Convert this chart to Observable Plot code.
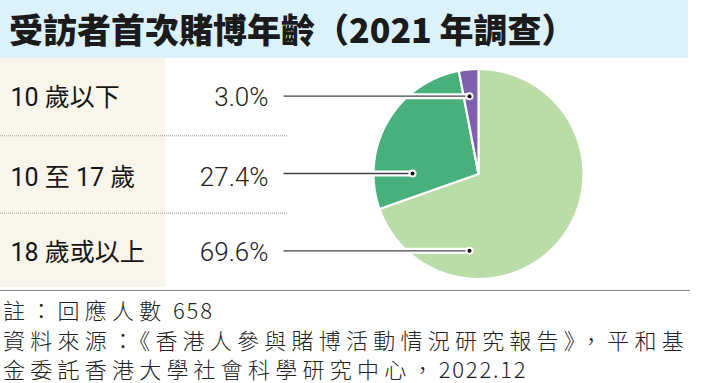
<!DOCTYPE html>
<html><head><meta charset="utf-8">
<script src="https://cdn.jsdelivr.net/npm/d3@7"></script>
<script src="https://cdn.jsdelivr.net/npm/@observablehq/plot@0.6"></script>
<style>
body{margin:0;background:#fff;width:710px;height:383px;overflow:hidden;position:relative;}
#title{position:absolute;left:0;top:0;width:688px;height:58px;background:#dcf2fb;font-family:"Noto Sans CJK TC";font-weight:900;font-size:34px;line-height:58px;padding-left:9px;box-sizing:border-box;color:#1b1b1b;white-space:nowrap;}
#chart{position:absolute;left:0;top:58px;}
#rule{position:absolute;left:0;top:290px;width:690px;height:0;border-top:1.3px solid #8a8a8a;}
#foot{position:absolute;left:3px;top:295px;font-family:"Noto Sans CJK TC";font-weight:300;font-size:22px;line-height:29.5px;color:#222;white-space:nowrap;}
#foot div{display:block;height:29.5px;}
#foot .ln{display:inline-block;}
#foot .a{letter-spacing:1.8px;}
</style></head>
<body>
<div id="title"></div><div id="chart"></div><div id="rule"></div><div id="foot"></div>
<script>
// ---- data ----
const title = "受訪者首次賭博年齡（2021 年調查）";
const categories = ["10 歲以下", "10 至 17 歲", "18 歲或以上"];
const shares = [3.0, 27.4, 69.6];
const shareLabels = ["3.0%", "27.4%", "69.6%"];
const colors = ["#7e60ae", "#47b07b", "#badca6"];
const pieOrder = [2, 1, 0]; // clockwise from 12 o'clock
const notes = [
  "註：回應人數 658",
  "資料來源：《香港人參與賭博活動情況研究報告》，平和基",
  "金委託香港大學社會科學研究中心，2022.12"
];

// ---- layout ----
const W = 710, H = 232;
const cx = 478, cy = 115.5, r = 105;
const tableW = 165, sepEnd = 287, labelX = 10, pctX = 268, leaderStart = 283;
const leaderDX = [-9, -66, -9];
const footTargetWidth = 686; // width of the longest footer line

document.getElementById("title").textContent = title;
const foot = document.getElementById("foot");
const runs = s => s.match(/[\x20-\x7e]+|[^\x20-\x7e]+/g)
  .map(t => /^[\x20-\x7e]/.test(t) ? `<span class="a">${t}</span>` : `<span class="c">${t}</span>`).join("");
foot.innerHTML = notes.map(s => `<div><span class="ln">${runs(s)}</span></div>`).join("");
// fit the spacing of the wide (CJK) characters so the long line spans the full width
const lns = foot.querySelectorAll(".ln");
const w0 = lns[1].getBoundingClientRect().width;
const nChars = [...notes[1]].length;
const L = (footTargetWidth - w0) / nChars;
foot.querySelectorAll(".c").forEach(el => el.style.letterSpacing = L + "px");

const rowBand = d3.scaleBand().domain(d3.range(categories.length)).range([0, H]);
const rowY = i => rowBand(i) + rowBand.bandwidth() / 2;
const seps = d3.range(1, categories.length).map(i => rowBand.step() * i);

const arcs = d3.pie().sort(null).value(i => shares[i])(pieOrder);
const slicePts = arcs.flatMap(a => {
  const n = Math.max(2, Math.ceil((a.endAngle - a.startAngle) / 0.01));
  const pts = [{k: a.data, x: cx, y: cy}];
  for (let j = 0; j <= n; j++) {
    const t = a.startAngle + (a.endAngle - a.startAngle) * j / n;
    pts.push({k: a.data, x: cx + r * Math.sin(t), y: cy - r * Math.cos(t)});
  }
  pts.push({k: a.data, x: cx, y: cy});
  return pts;
});

const idx = d3.range(categories.length);
const cjk = "Roboto, 'Noto Sans CJK TC', sans-serif";

const plot = Plot.plot({
  width: W, height: H, margin: 0,
  x: {domain: [0, W], range: [0, W], axis: null},
  y: {domain: [0, H], range: [0, H], axis: null},
  color: {type: "identity"},
  style: {background: "white"},
  marks: [
    Plot.rect([0], {x1: 0, x2: tableW, y1: 0, y2: H - 3, fill: "#f9f5ea"}),
    Plot.ruleY(seps, {x1: 0, x2: sepEnd, stroke: "#9a9a9a", strokeWidth: 1, strokeDasharray: "1 1"}),
    Plot.line(slicePts, {x: "x", y: "y", z: "k", fill: d => colors[d.k], stroke: "white", strokeWidth: 2.2, strokeLinejoin: "round"}),
    Plot.text(categories, {x: labelX, y: (d, i) => rowY(i) + 1 + (i === 1 ? 2 : 0), text: d => d, textAnchor: "start", fontSize: 25, fontFamily: cjk, fill: "#151515"}),
    Plot.text(shareLabels, {x: pctX, y: (d, i) => rowY(i) + 1 + (i === 1 ? 2 : 0), text: d => d, textAnchor: "end", fontSize: 26, fontWeight: 300, fontFamily: "Roboto, sans-serif", fill: "#222"}),
    Plot.link(idx, {x1: cx - r - 4, x2: i => cx + leaderDX[i], y1: i => rowY(i) - 1, y2: i => rowY(i) - 1, stroke: "white", strokeWidth: 6}),
    Plot.link(idx, {x1: leaderStart, x2: i => cx + leaderDX[i], y1: i => rowY(i) - 1, y2: i => rowY(i) - 1, stroke: "#444", strokeWidth: 1.3}),
    Plot.dot(idx, {x: i => cx + leaderDX[i], y: i => rowY(i) - 1, r: 4, fill: "white"}),
    Plot.dot(idx, {x: i => cx + leaderDX[i], y: i => rowY(i) - 1, r: 2, fill: "#111"})
  ]
});
document.getElementById("chart").appendChild(plot);
</script>
</body></html>
